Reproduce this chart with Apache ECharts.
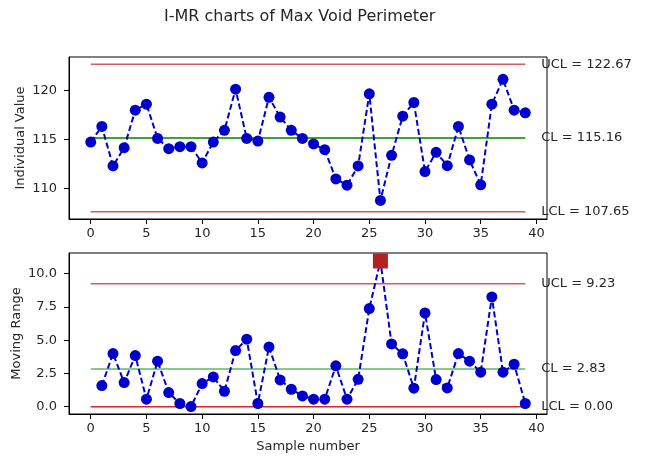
<!DOCTYPE html>
<html>
<head>
<meta charset="utf-8">
<script src="https://cdn.jsdelivr.net/npm/echarts@6/dist/echarts.min.js"></script>
<style>html,body{margin:0;padding:0;background:#fff;}#chart{width:648px;height:460px;}</style>
</head>
<body>
<div id="chart"></div>
<script>
// ---- data ----
const titleText = 'I-MR charts of Max Void Perimeter';
const individualValues = [114.75,116.34,112.31,114.17,118.0,118.61,115.12,114.07,114.28,114.28,
  112.62,114.75,115.94,120.14,115.12,114.85,119.31,117.29,115.94,115.12,
  114.55,113.97,110.99,110.35,112.31,119.66,108.79,113.39,117.39,118.78,
  111.74,113.70,112.34,116.34,112.92,110.38,118.61,121.14,118.0,117.73];
const movingRanges = [1.59,3.99,1.81,3.84,0.56,3.42,1.06,0.24,0.01,1.74,
  2.24,1.16,4.22,5.07,0.24,4.49,2.01,1.31,0.81,0.56,
  0.56,3.07,0.56,2.06,7.37,10.95,4.72,3.97,1.39,7.04,
  2.04,1.41,3.99,3.42,2.59,8.25,2.59,3.19,0.24]; // samples 1..39
const iLimits = {UCL: 122.67, CL: 115.16, LCL: 107.65};
const mrLimits = {UCL: 9.23, CL: 2.83, LCL: 0.00};
const xTicks = [0,5,10,15,20,25,30,35,40];
const iTicks = [110,115,120];
const mrTicks = [0,2.5,5,7.5,10];

// ---- build ----
const FONT = 'DejaVu Sans';
const TXT = '#262626';
const BLUE = '#0000CD';
const n = individualValues.length;
const iData = individualValues.map((v,i)=>[i,v]);
const mrData = movingRanges.map((v,i)=>[i+1,v]);
const mrOut = mrData.filter(d=>d[1] > mrLimits.UCL);

function limitSeries(xi, yi, name, value, color, width) {
  return {
    type:'line', xAxisIndex:xi, yAxisIndex:yi, silent:true, symbol:'none', z:1,
    data:[[0,value],[n-1,value]],
    lineStyle:{color:color, width:width},
    endLabel:{show:true, distance:16, color:TXT, fontFamily:FONT, fontSize:13,
      formatter: () => name + ' = ' + value.toFixed(2)}
  };
}
function xAx(gi, withName) {
  return {
    type:'value', gridIndex:gi, min:-1.95, max:40.95,
    axisLine:{show:true, onZero:false, lineStyle:{color:'#000', width:1}},
    axisTick:{show:true, length:5, customValues:xTicks, lineStyle:{color:'#000'}},
    axisLabel:{customValues:xTicks, margin:8, color:TXT, fontFamily:FONT, fontSize:13},
    splitLine:{show:false},
    name: withName ? 'Sample number' : '', nameLocation:'middle', nameGap:26, nameMoveOverlap:false,
    nameTextStyle:{color:TXT, fontFamily:FONT, fontSize:13}
  };
}
function yAx(gi, min, max, ticks, name, fmt, gap) {
  return {
    type:'value', gridIndex:gi, min:min, max:max,
    axisLine:{show:true, onZero:false, lineStyle:{color:'#000', width:1}},
    axisTick:{show:true, length:5, customValues:ticks, lineStyle:{color:'#000'}},
    axisLabel:{customValues:ticks, margin:12, color:TXT, fontFamily:FONT, fontSize:13, formatter:fmt},
    splitLine:{show:false},
    name:name, nameLocation:'middle', nameRotate:90, nameGap:gap, nameMoveOverlap:false,
    nameTextStyle:{color:TXT, fontFamily:FONT, fontSize:13}
  };
}
const chart = echarts.init(document.getElementById('chart'), null, {renderer:'canvas'});
chart.setOption({
  animation:false,
  backgroundColor:'#fff',
  title:{text:titleText, left:164, top:9, padding:0,
    textStyle:{fontFamily:FONT, fontSize:16, fontWeight:'normal', color:TXT}},
  grid:[
    {left:69, top:57, width:478, height:162, show:true, borderColor:'#000', borderWidth:1,
      backgroundColor:'transparent', containLabel:false, outerBoundsMode:'none'},
    {left:69, top:253, width:478, height:161, show:true, borderColor:'#000', borderWidth:1,
      backgroundColor:'transparent', containLabel:false, outerBoundsMode:'none'}
  ],
  xAxis:[xAx(0,false), xAx(1,true)],
  yAxis:[
    yAx(0, 106.9, 123.42, iTicks, 'Individual Value', v=>String(v), 42),
    yAx(1, -0.55, 11.55, mrTicks, 'Moving Range', v=>v.toFixed(1), 46)
  ],
  series:[
    limitSeries(0,0,'UCL', iLimits.UCL, '#d45c5c', 1.5),
    limitSeries(0,0,'CL', iLimits.CL, '#008000', 1.5),
    limitSeries(0,0,'LCL', iLimits.LCL, '#d45c5c', 1.5),
    {type:'line', xAxisIndex:0, yAxisIndex:0, data:iData, z:3,
      symbol:'circle', symbolSize:11, itemStyle:{color:BLUE},
      lineStyle:{color:BLUE, width:2, type:[6,3]}},
    limitSeries(1,1,'UCL', mrLimits.UCL, '#d45c5c', 1.5),
    limitSeries(1,1,'CL', mrLimits.CL, '#5cb85c', 1.5),
    limitSeries(1,1,'LCL', mrLimits.LCL, '#dd2222', 1.5),
    {type:'line', xAxisIndex:1, yAxisIndex:1, data:mrData, z:3,
      symbol:'circle', symbolSize:11, itemStyle:{color:BLUE},
      lineStyle:{color:BLUE, width:2, type:[6,3]}},
    {type:'scatter', xAxisIndex:1, yAxisIndex:1, data:mrOut, z:4, clip:false,
      symbol:'rect', symbolSize:15, itemStyle:{color:'#B22222', opacity:1}}
  ]
});
</script>
</body>
</html>
